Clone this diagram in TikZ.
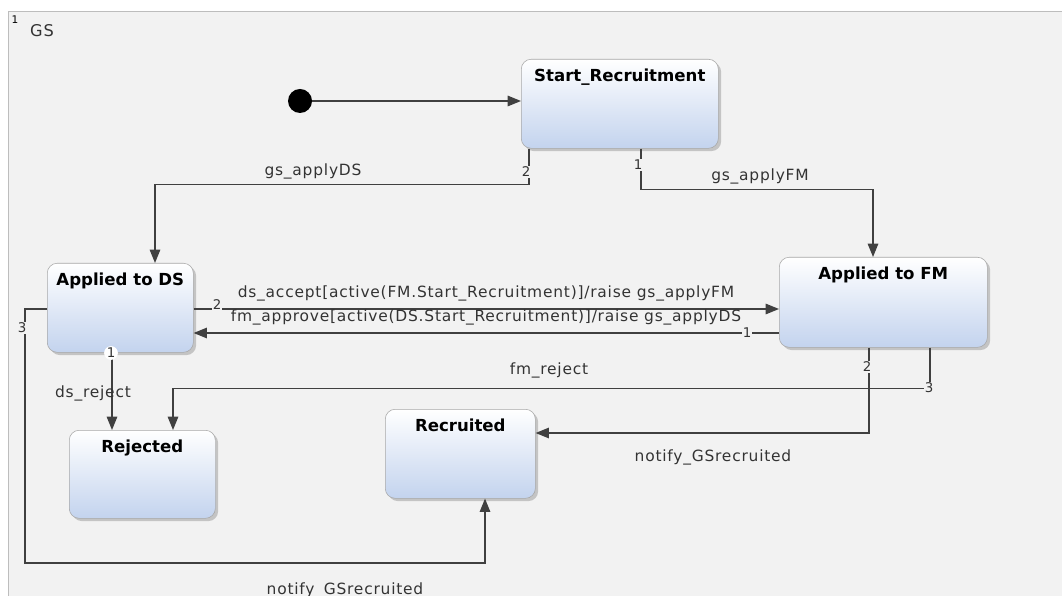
\documentclass[tikz,border=0pt]{standalone}
\usepackage{fontspec}
\setmainfont{DejaVu Sans}
\newfontfamily\wideface[LetterSpace=5]{DejaVu Sans}
\usepackage{xcolor}
\usetikzlibrary{calc,arrows.meta,shadows}
\definecolor{framegray}{HTML}{F2F2F2}
\definecolor{frameline}{HTML}{BDBDBD}
\definecolor{boxblue}{HTML}{C3D3EE}
\definecolor{boxline}{HTML}{A8A8A8}
\definecolor{wire}{HTML}{404040}
\definecolor{txt}{HTML}{333333}
\tikzset{
  state/.style={draw=boxline,rounded corners=7pt,top color=white,bottom color=boxblue,anchor=north west,inner sep=0pt,drop shadow={shadow xshift=2pt,shadow yshift=-2pt,opacity=0.4}},
  title/.style={anchor=north,yshift=-3.5pt,font=\fontsize{11.8}{13}\selectfont\bfseries,text=black},
  trans/.style={draw=wire,line width=0.9pt,-{Triangle[length=9.5pt,width=7.5pt]}},
  lbl/.style={font=\wideface\fontsize{11}{12}\selectfont,text=txt,inner sep=1pt},
  num/.style={font=\fontsize{9.5}{10}\selectfont,text=txt,fill=framegray,inner sep=0.5pt}
}

\begin{document}
\begin{tikzpicture}[x=0.025cm,y=-0.025cm]
  \useasboundingbox (0,0) rectangle (1062,596);
  \clip (0,0) rectangle (1062,596);
  \fill[white] (0,0) rectangle (1062,596);
  \draw[draw=frameline,fill=framegray] (8,11) rectangle (1080,620);
  \node[font=\fontsize{7.5}{8}\selectfont] (gsnum) at (15,20) {1};
  \node[lbl,font=\wideface\fontsize{11.5}{13}\selectfont] (gs) at (42,31) {GS};
  % states
  \node[circle,fill=black,minimum size=0.6cm,inner sep=0pt] (init) at (300,101) {};
  \node[state,minimum width=4.925cm,minimum height=2.225cm,label={[title]north:Start\_Recruitment}] (start) at (521,59) {};
  \node[state,minimum width=3.65cm,minimum height=2.225cm,label={[title]north:Applied to DS}] (ds) at (47,263) {};
  \node[state,minimum width=5.2cm,minimum height=2.25cm,label={[title]north:Applied to FM}] (fm) at (779,257) {};
  \node[state,minimum width=3.65cm,minimum height=2.2cm,label={[title]north:Rejected}] (rej) at (69,430) {};
  \node[state,minimum width=3.75cm,minimum height=2.225cm,label={[title]north:Recruited}] (rec) at (385,409) {};
  % transitions
  \draw[trans] (init) -- (init -| start.west);
  \draw[trans] ($(start.south west)+(8,0)$) -- ++(0,36) -| ($(ds.north west)+(108,0)$);
  \draw[trans] ($(start.south west)+(120,0)$) -- ++(0,41) -| ($(fm.north west)+(94,0)$);
  \draw[trans] (ds.east |- 0,309) -- (fm.west |- 0,309);
  \draw[trans] (fm.west |- 0,333) -- (ds.east |- 0,333);
  \draw[trans] ($(ds.south west)+(65,0)$) -- ($(rej.north west)+(43,0)$);
  \draw[trans] ($(fm.south west)+(151,0)$) -- ++(0,41) -| ($(rej.north west)+(104,0)$);
  \draw[trans] ($(fm.south west)+(90,0)$) |- ($(rec.north east)+(0,24)$);
  \draw[trans] (ds.west |- 0,309) -- ++(-22,0) -- ++(0,254) -| ($(rec.south west)+(100,0)$);
  % labels
  \node[lbl] (applyds) at (313,171) {gs\_applyDS};
  \node[lbl] (applyfm) at (760,176) {gs\_applyFM};
  \node[lbl] (accept) at (486,293) {ds\_accept[active(FM.Start\_Recruitment)]/raise gs\_applyFM};
  \node[lbl] (approve) at (486,317) {fm\_approve[active(DS.Start\_Recruitment)]/raise gs\_applyDS};
  \node[lbl] (dsreject) at (93,393) {ds\_reject};
  \node[lbl] (fmreject) at (549,370) {fm\_reject};
  \node[lbl] (notifyfm) at (713,457) {notify\_GSrecruited};
  \node[lbl] (notifyds) at (345,590) {notify\_GSrecruited};
  % ports
  \node[num] (p1) at (526,172) {2};
  \node[num] (p2) at (638,165) {1};
  \node[num] (p3) at (217,305) {2};
  \node[num] (p4) at (747,333) {1};
  \node[num,fill=white,circle,inner sep=0.2pt] (p5) at (111,353) {1};
  \node[num] (p6) at (867,367) {2};
  \node[num] (p7) at (929,388) {3};
  \node[num] (p8) at (22,328) {3};
\end{tikzpicture}
\end{document}
